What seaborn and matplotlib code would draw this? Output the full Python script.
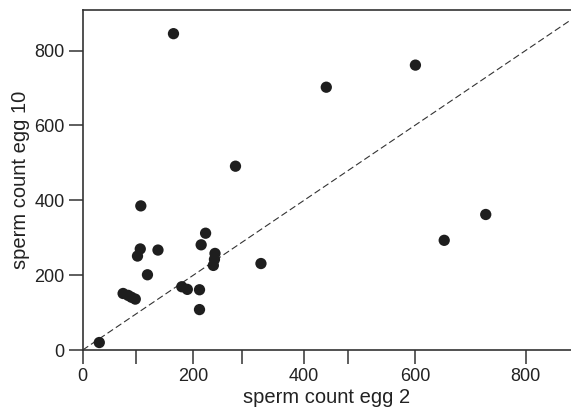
import matplotlib
matplotlib.use("Agg")
import matplotlib.pyplot as plt
import seaborn as sns
import pandas as pd
import numpy as np

egg2 = [30, 73, 82, 88, 95, 99, 104, 105, 117, 136, 179, 189, 211, 211, 214, 222,
        239, 238, 236, 322, 164, 276, 440, 601, 653, 728]
egg10 = [20, 151, 146, 141, 136, 251, 270, 385, 201, 267, 169, 162, 161, 108, 281, 312,
         258, 242, 226, 231, 845, 491, 702, 761, 293, 362]

major_ticks = [0, 200, 400, 600, 800]
x_minor_ticks = [96, 288, 480]

sns.set_theme(style="ticks")
plt.rcParams['font.family'] = ['Liberation Sans', 'DejaVu Sans']

df = pd.DataFrame({"egg2": egg2, "egg10": egg10})

fig = plt.figure(figsize=(5.71, 4.13), dpi=100)
ax = fig.add_axes([0.1448, 0.1525, 0.8552, 0.824])

sns.scatterplot(data=df, x="egg2", y="egg10", ax=ax, color="#1e1e1e",
                s=66, edgecolor="none", linewidth=0, zorder=3)
lim = [0, 1000]
ax.plot(lim, lim, ls=(0, (6, 3)), color="#333333", lw=0.8, zorder=2)

ax.set_xlim(0, 882)
ax.set_ylim(0, 909)
ax.set_xticks(major_ticks)
ax.set_xticks(x_minor_ticks, minor=True)
ax.set_yticks(major_ticks)
ax.set_xlabel("sperm count egg 2", fontsize=14.5, color="#222222", labelpad=2)
ax.set_ylabel("sperm count egg 10", fontsize=14.5, color="#222222", labelpad=3)

for side in ["left", "bottom", "top"]:
    ax.spines[side].set_linewidth(1.2)
    ax.spines[side].set_color("#333333")
ax.spines["right"].set_visible(False)

ax.tick_params(axis="both", which="both", direction="out", length=10, width=1.1,
               color="#333333", labelsize=13, labelcolor="#222222", pad=3)

fig.savefig("out.png", dpi=100)
